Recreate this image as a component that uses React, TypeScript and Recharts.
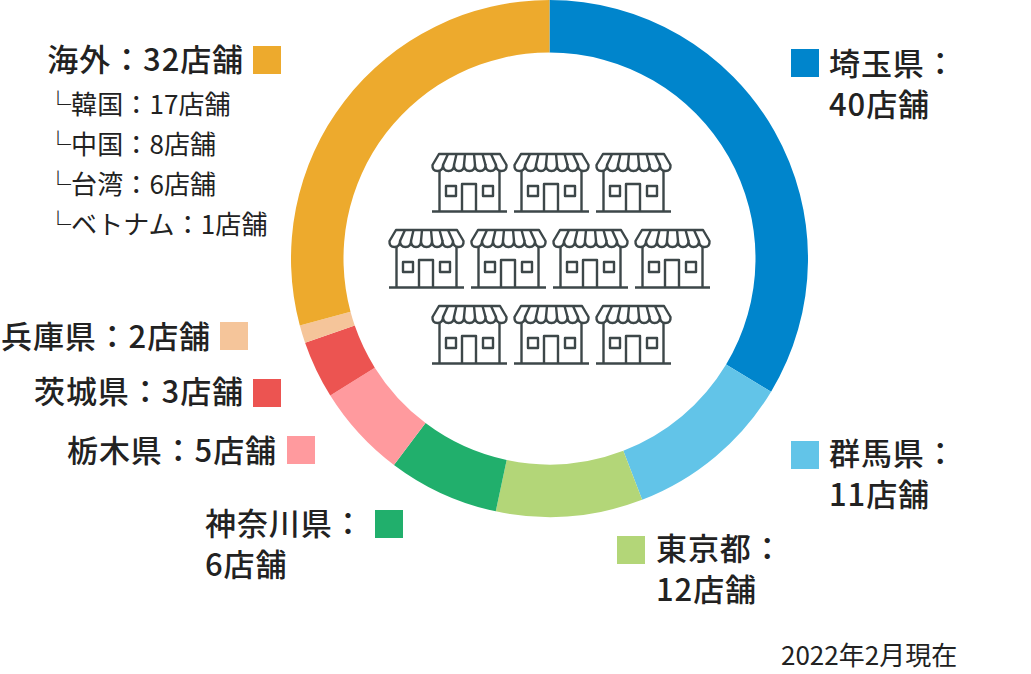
import React from 'react';
import { PieChart, Pie, Cell } from 'recharts';

const names = ['埼玉県', '群馬県', '東京都', '神奈川県', '栃木県', '茨城県', '兵庫県', '海外'];
const stores = [40, 11, 12, 6, 5, 3, 2, 32];
// the ring in the picture is not proportional to the store counts, so arcs are read off it in degrees
const arcDegrees = [121, 38, 33, 25, 21, 13, 4, 105];
const colors = ['#0085cc', '#62c4e8', '#b3d678', '#21af6c', '#ff9a9e', '#ec5451', '#f5c59a', '#edaa2d'];

const overseasNames = ['韓国', '中国', '台湾', 'ベトナム'];
const overseasStores = [17, 8, 6, 1];

const data = names.map((name, i) => ({ name, value: arcDegrees[i] }));

const FONT = '"Noto Sans CJK JP", "Noto Sans", sans-serif';
const INK = '#222222';
const ICON = '#3d4749';

const colName = (i: number) => `${names[i]}：`;
const colCount = (i: number) => `${stores[i]}店舗`;
const full = (i: number) => colName(i) + colCount(i);

function Big({ x, y, right, children }: { x?: number; y: number; right?: number; children: React.ReactNode }) {
    return (
        <div
            style={{
                position: 'absolute',
                left: x,
                right: right !== undefined ? 1031 - right : undefined,
                top: y - 19,
                height: 34,
                lineHeight: '34px',
                fontFamily: FONT,
                fontSize: 31,
                fontWeight: 500,
                letterSpacing: 0.9,
                color: INK,
                whiteSpace: 'nowrap',
            }}
        >
            {children}
        </div>
    );
}

function Small({ x, y, size = 26, spacing = 0.1, children }: { x: number; y: number; size?: number; spacing?: number; children: React.ReactNode }) {
    return (
        <div
            style={{
                position: 'absolute',
                left: x,
                top: y - 17,
                height: 30,
                lineHeight: '30px',
                fontFamily: FONT,
                fontSize: size,
                fontWeight: 400,
                letterSpacing: spacing,
                color: INK,
                whiteSpace: 'nowrap',
            }}
        >
            {children}
        </div>
    );
}

function Swatch({ x, y, color }: { x: number; y: number; color: string }) {
    return <div style={{ position: 'absolute', left: x, top: y, width: 28, height: 28, background: color }} />;
}

function Shop({ x, y }: { x: number; y: number }) {
    return (
        <g transform={`translate(${x},${y})`} fill="none" stroke={ICON} strokeWidth={2.4} strokeLinejoin="round">
            <path d="M7 1 H68 L74.5 12 Q75 18 69.5 18 Q64 18 64 12 Q64 18 58.5 18 Q53.5 18 53.5 12 Q53.5 18 48 18 Q43 18 43 12 Q43 18 37.5 18 Q32 18 32 12 Q32 18 27 18 Q22 18 22 12 Q22 18 16.5 18 Q11 18 11 12 Q11 18 5.5 18 Q0 18 0.5 12 Z" />
            <path d="M11 12 L16 1 M22 12 L24.5 1 M32 12 L33 1 M43 12 L42 1 M53.5 12 L50.5 1 M64 12 L59 1" />
            <path d="M7.5 18 V58 M67.5 18 V58 M0 58.5 H75" />
            <path d="M30 58 V31 H44 V58" />
            <rect x={14} y={33} width={10} height={10} />
            <rect x={51} y={33} width={10} height={10} />
        </g>
    );
}

export default function App() {
    const rowXs = [
        [432, 514, 596],
        [389, 471, 553, 635],
        [432, 514, 596],
    ];
    const rowYs = [153, 229, 305];

    return (
        <div style={{ position: 'absolute', left: 0, top: 0, width: 1031, height: 674, background: '#fff', overflow: 'hidden' }}>
            <div style={{ position: 'absolute', left: 0, top: 0 }}>
                <PieChart width={1031} height={674} margin={{ top: 0, right: 0, bottom: 0, left: 0 }}>
                    <Pie
                        data={data}
                        dataKey="value"
                        nameKey="name"
                        cx={549.5}
                        cy={258.5}
                        innerRadius={206}
                        outerRadius={258.5}
                        startAngle={90}
                        endAngle={-270}
                        stroke="none"
                        paddingAngle={0}
                        isAnimationActive={false}
                    >
                        {data.map((d, i) => (
                            <Cell key={d.name} fill={colors[i]} />
                        ))}
                    </Pie>
                </PieChart>
            </div>

            <svg width={1031} height={674} style={{ position: 'absolute', left: 0, top: 0 }}>
                {rowYs.map((y, r) => rowXs[r].map((x) => <Shop key={`${r}-${x}`} x={x} y={y} />))}
            </svg>

            <Swatch x={791} y={49} color={colors[0]} />
            <Big x={829} y={64}>{colName(0)}</Big>
            <Big x={829} y={105}>{colCount(0)}</Big>

            <Swatch x={791} y={441} color={colors[1]} />
            <Big x={829} y={454}>{colName(1)}</Big>
            <Big x={829} y={495}>{colCount(1)}</Big>

            <Swatch x={617} y={536} color={colors[2]} />
            <Big x={656} y={549}>{colName(2)}</Big>
            <Big x={656} y={590}>{colCount(2)}</Big>

            <Swatch x={375} y={510} color={colors[3]} />
            <Big x={205} y={524}>{colName(3)}</Big>
            <Big x={205} y={565}>{colCount(3)}</Big>

            <Swatch x={287} y={436} color={colors[4]} />
            <Big right={277} y={451}>{full(4)}</Big>

            <Swatch x={253} y={379} color={colors[5]} />
            <Big right={244} y={392}>{full(5)}</Big>

            <Swatch x={220} y={322} color={colors[6]} />
            <Big right={211} y={337}>{full(6)}</Big>

            <Swatch x={253} y={46} color={colors[7]} />
            <Big right={244} y={60}>{full(7)}</Big>

            {overseasNames.map((n, i) => (
                <Small key={n} x={45} y={105 + i * 40}>{`└${n}：${overseasStores[i]}店舗`}</Small>
            ))}

            <Small x={781} y={656} spacing={0}>2022年2月現在</Small>
        </div>
    );
}
